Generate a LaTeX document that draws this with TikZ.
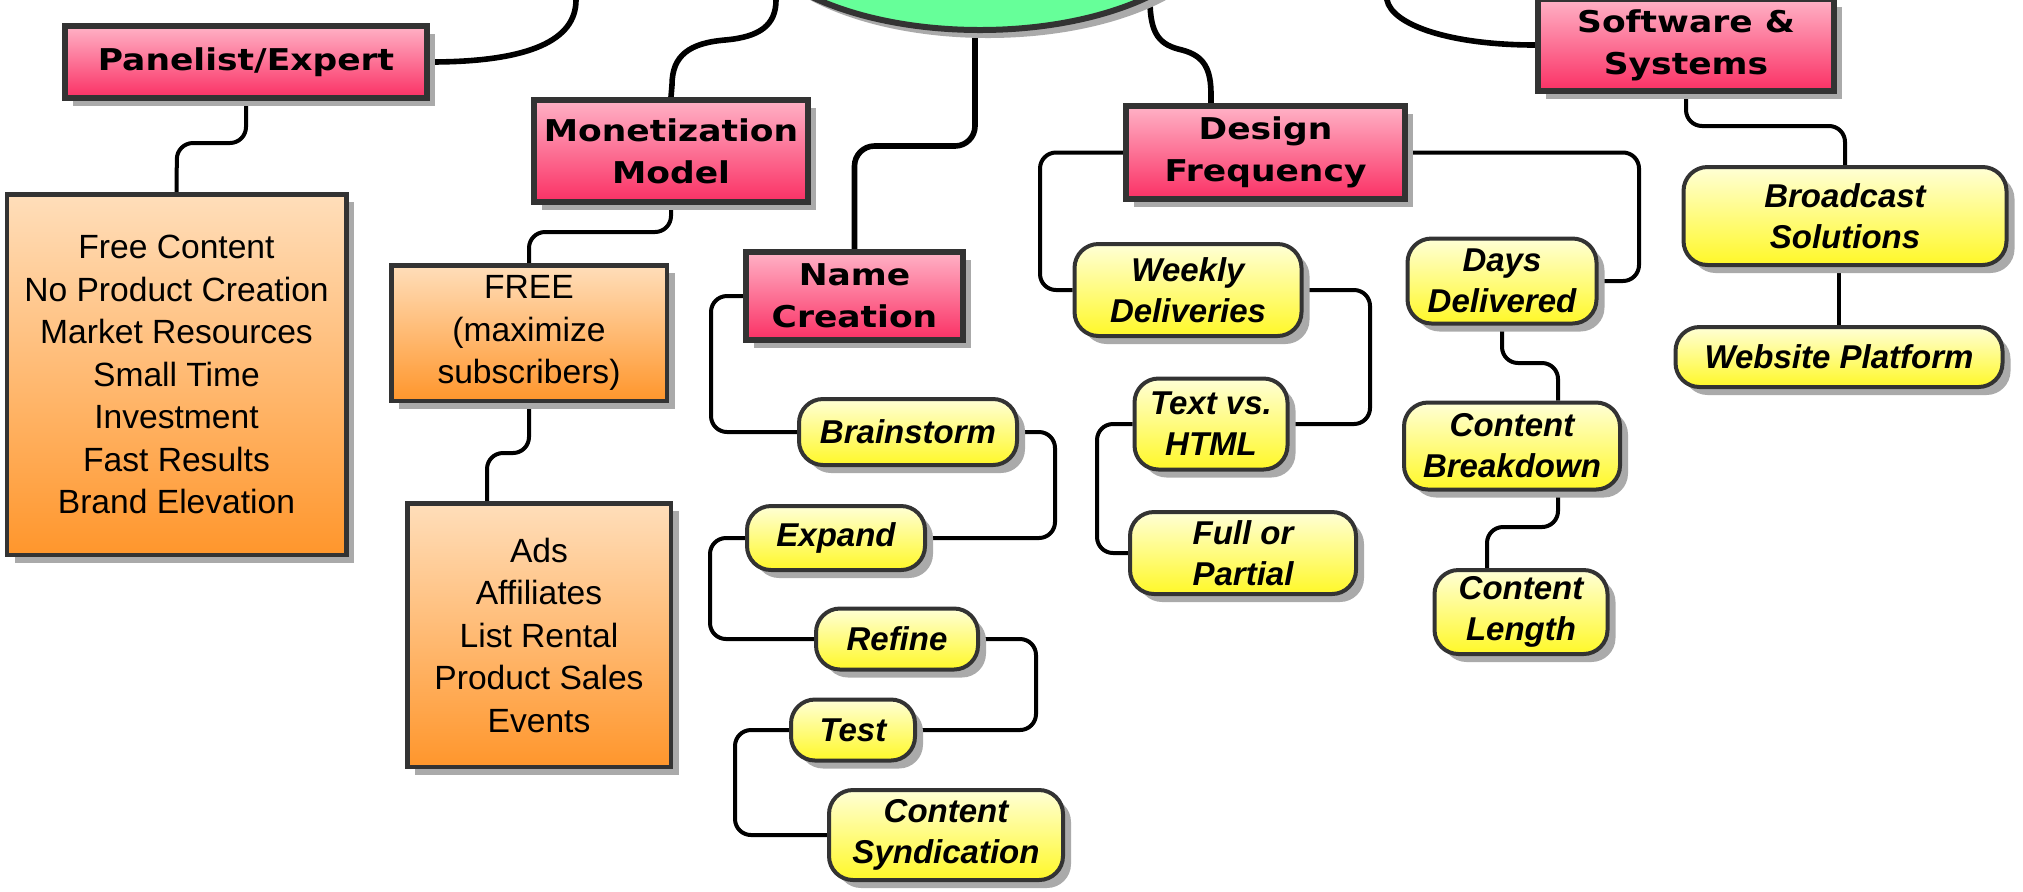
\documentclass[tikz,border=0pt]{standalone}
\usepackage{fontspec}
\setmainfont{Liberation Sans}
\newfontfamily\pinkfont{DejaVu Sans}[FakeStretch=1.15]
\usetikzlibrary{shadows,backgrounds,calc,shapes.geometric}
\definecolor{pinkT}{RGB}{255,178,198}
\definecolor{pinkB}{RGB}{250,48,100}
\definecolor{orT}{RGB}{255,222,186}
\definecolor{orB}{RGB}{255,150,44}
\definecolor{yeT}{RGB}{255,255,214}
\definecolor{yeB}{RGB}{255,248,40}
\definecolor{grn}{RGB}{102,255,153}
\definecolor{edgec}{RGB}{51,51,51}
\definecolor{shadowc}{RGB}{170,170,170}
\tikzset{
  sz/.style 2 args={minimum width=#1*0.5pt, minimum height=#2*0.5pt},
  shadowed/.style={drop shadow={shadow xshift=4pt, shadow yshift=-4pt, fill=shadowc, opacity=1}},
  topic/.style={draw=edgec, line width=3pt, top color=pinkT, bottom color=pinkB, shadowed,
    inner sep=0pt, align=center, font=\pinkfont\bfseries\fontsize{15}{21}\selectfont},
  notebox/.style={draw=edgec, line width=2.25pt, top color=orT, bottom color=orB, shadowed,
    inner sep=0pt, align=center, font=\fontsize{16.8}{21.25}\selectfont},
  subbox/.style={draw=edgec, line width=2pt, rounded corners=12pt, top color=yeT, bottom color=yeB, shadowed,
    inner sep=0pt, align=center, font=\bfseries\itshape\fontsize{16.5}{20.5}\selectfont},
  branch/.style={line width=2.8pt, black, line cap=round},
  link/.style={line width=2pt, black, rounded corners=8pt},
}
\begin{document}
\begin{tikzpicture}[x=0.5pt,y=-0.5pt]
\useasboundingbox (0,0) rectangle (2023,891);
\clip (0,0) rectangle (2023,891);
% central topic
\node[ellipse, draw=edgec, line width=3pt, fill=grn, shadowed, minimum width=237pt, minimum height=112pt, inner sep=0pt] (c) at (980,-82) {};
% main topics
\node[topic, sz={362}{72}] (pan) at (246,62) {Panelist/Expert};
\node[topic, sz={274}{102}] (mon) at (671,151) {Monetization\\Model};
\node[topic, sz={217}{88}] (nc) at (854.5,296) {Name\\Creation};
\node[topic, sz={279}{93}] (df) at (1265.5,152.5) {Design\\Frequency};
\node[topic, sz={296}{92}] (ss) at (1686,45) {Software \&\\Systems};
% orange notes
\node[notebox, sz={339.5}{360.5}] (fc) at (176.5,374.5) {Free Content\\No Product Creation\\Market Resources\\Small Time\\Investment\\Fast Results\\Brand Elevation};
\node[notebox, sz={275.5}{135.5}] (free) at (529,333) {FREE\\(maximize\\subscribers)};
\node[notebox, sz={263.5}{263.5}] (ads) at (539,635) {Ads\\Affiliates\\List Rental\\Product Sales\\Events};
% yellow subtopics
\node[subbox, sz={218}{66}] (brn) at (908,432) {Brainstorm};
\node[subbox, sz={178}{64}] (ex) at (836,538) {Expand};
\node[subbox, sz={162}{61}] (rf) at (897,639) {Refine};
\node[subbox, sz={124}{61}] (ts) at (853,730) {Test};
\node[subbox, sz={234}{90}] (csy) at (946,835) {Content\\Syndication};
\node[subbox, sz={227}{92}] (wd) at (1188,290) {Weekly\\Deliveries};
\node[subbox, sz={153}{91}] (tvh) at (1211,424) {Text vs.\\HTML};
\node[subbox, sz={226}{82}] (fop) at (1243,553) {Full or\\Partial};
\node[subbox, sz={189}{85}] (dd) at (1502,281) {Days\\Delivered};
\node[subbox, sz={216}{87}] (cb) at (1512,446) {Content\\Breakdown};
\node[subbox, sz={173}{84}] (cl) at (1521,612) {Content\\Length};
\node[subbox, sz={323}{98}] (bcs) at (1845,216) {Broadcast\\Solutions};
\node[subbox, sz={327}{60}] (wp) at (1839,357) {Website Platform};
% connectors
\begin{scope}[on background layer]
\clip (0,0) rectangle (2023,891);
\draw[branch] (c.center) .. controls (700,-82) and (576,-60) .. (576,0)
  .. controls (576,40) and (530,62) .. (pan.east);
\draw[branch] (c.center) -- (776,-82) -- (776,0)
  .. controls (776,25) and (760,37) .. (725,40)
  .. controls (690,43) and (672,55) .. (672,85) -- (mon.north);
\draw[branch, rounded corners=10pt] (c.center) -- (975,-82) -- (975,146) -- (854.5,146) -- (nc.north);
\draw[branch] (c.center) -- (1150,-82) -- (1150,0)
  .. controls (1150,35) and (1160,45) .. (1182,50)
  .. controls (1205,56) and (1211,70) .. (1211,95) -- (1211,0 |- df.north);
\draw[branch] (c.center) -- (1387,-82) -- (1387,0)
  .. controls (1392,25) and (1450,45) .. (ss.west);
\draw[link] (pan.south) -- (246,143) -- (177,143) -- (fc.north);
\draw[link] (mon.south) -- (671,232) -- (529,232) -- (free.north);
\draw[link] (free.south) -- (529,453) -- (487,453) -- (487,0 |- ads.north);
\draw[link] (nc.west) -- (711,296) -- (711,432) -- (brn.west);
\draw[link] (brn.east) -- (1055,432) -- (1055,538) -- (ex.east);
\draw[link] (ex.west) -- (710,538) -- (710,639) -- (rf.west);
\draw[link] (rf.east) -- (1036,639) -- (1036,730) -- (ts.east);
\draw[link] (ts.west) -- (735,730) -- (735,835) -- (csy.west);
\draw[link] (df.west) -- (1040,152.5) -- (1040,290) -- (wd.west);
\draw[link] (df.east) -- (1639,152.5) -- (1639,281) -- (dd.east);
\draw[link] (wd.east) -- (1370,290) -- (1370,424) -- (tvh.east);
\draw[link] (tvh.west) -- (1097,424) -- (1097,553) -- (fop.west);
\draw[link] (dd.south) -- (1502,363) -- (1558,363) -- (1558,0 |- cb.north);
\draw[link] (1558,0 |- cb.south) -- (1558,527) -- (1487,527) -- (1487,0 |- cl.north);
\draw[link] (ss.south) -- (1686,126) -- (1845,126) -- (bcs.north);
\draw[link] (1839,0 |- bcs.south) -- (wp.north);
\end{scope}
\end{tikzpicture}
\end{document}
